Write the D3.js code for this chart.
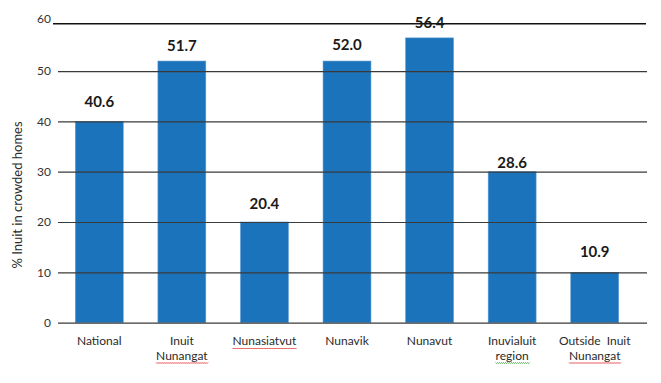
<!DOCTYPE html>
<html lang="en">
<head>
    <meta charset="UTF-8">
    <title>Inuit in crowded homes</title>
    <script src="https://d3js.org/d3.v7.min.js"></script>
    <style>
        body { margin: 0; background: #fff; }
        text { font-family: Lato, "Open Sans", sans-serif; }
    </style>
</head>
<body>
<div id="chart"></div>
<script>
    // regions, first and second line of the axis label
    const categories = ['National', 'Inuit Nunangat', 'Nunasiatvut', 'Nunavik', 'Nunavut', 'Inuvialuit region', 'Outside Inuit Nunangat'];
    const labelLines = [['National'], ['Inuit', 'Nunangat'], ['Nunasiatvut'], ['Nunavik'], ['Nunavut'], ['Inuvialuit', 'region'], ['Outside  Inuit', 'Nunangat']];
    // words with a spell-check squiggle in the picture
    const redWords = ['Nunangat', 'Nunasiatvut'];
    const greenWords = ['region'];

    // bar heights as drawn, and the value printed above each bar
    const barValues = [40, 52, 20, 52, 56.6, 30, 10];
    const valueLabels = [40.6, 51.7, 20.4, 52.0, 56.4, 28.6, 10.9];

    const yTicks = [0, 10, 20, 30, 40, 50, 60];

    const width = 661, height = 383;
    const svg = d3.select('#chart')
        .append('svg')
        .attr('width', width)
        .attr('height', height);

    const x = d3.scaleBand()
        .domain(categories)
        .range([58, 636])
        .paddingInner(0.42)
        .paddingOuter(0.21);

    const y = d3.scaleLinear()
        .domain([0, 60])
        .range([322.6, 20.8]);

    // bars first, gridlines go over them
    svg.append('g')
        .selectAll('rect')
        .data(barValues)
        .join('rect')
        .attr('x', (d, i) => x(categories[i]))
        .attr('y', d => y(d))
        .attr('width', x.bandwidth())
        .attr('height', d => y(0) - y(d))
        .attr('fill', '#1b73bb')
        .attr('stroke', '#5b9bd3')
        .attr('stroke-width', 0.6);

    const yAxis = svg.append('g')
        .attr('transform', 'translate(58,0)')
        .call(d3.axisLeft(y)
            .tickValues(yTicks.slice(0, -1))
            .tickSize(-(647 - 58))
            .tickPadding(7));
    yAxis.select('.domain').remove();
    yAxis.selectAll('.tick line')
        .attr('stroke', '#3a3a3a')
        .attr('stroke-width', 1.2);
    yAxis.selectAll('.tick text')
        .attr('fill', '#333')
        .style('font-size', '12px')
        .style('font-family', 'Lato, sans-serif');

    // top line sits a little apart in the original
    svg.append('text')
        .attr('x', 51)
        .attr('y', y(60) - 2)
        .attr('dy', '0.32em')
        .attr('text-anchor', 'end')
        .attr('fill', '#333')
        .style('font-size', '12px')
        .text(yTicks[yTicks.length - 1]);
    svg.append('line')
        .attr('x1', 53)
        .attr('x2', 646)
        .attr('y1', y(60) + 3)
        .attr('y2', y(60) + 3)
        .attr('stroke', '#111')
        .attr('stroke-width', 1.6);

    // value labels
    svg.append('g')
        .selectAll('text')
        .data(valueLabels)
        .join('text')
        .attr('x', (d, i) => x(categories[i]) + x.bandwidth() / 2)
        .attr('y', d => y(d) - 16.5)
        .attr('dy', '0.36em')
        .attr('text-anchor', 'middle')
        .attr('fill', '#1a1a1a')
        .style('font-size', '15px')
        .style('font-weight', 'bold')
        .text(d => d.toFixed(1));

    // category labels
    const catGroups = svg.append('g')
        .selectAll('g')
        .data(labelLines)
        .join('g')
        .attr('transform', (d, i) => `translate(${x(categories[i]) + x.bandwidth() / 2}, 345)`);

    catGroups.each(function(lines) {
        const g = d3.select(this);
        lines.forEach((word, k) => {
            const t = g.append('text')
                .attr('y', k * 14.5)
                .attr('text-anchor', 'middle')
                .attr('fill', '#2a2a2a')
                .attr('xml:space', 'preserve')
                .style('white-space', 'pre')
                .style('font-size', '12px')
                .text(word);
            const colour = redWords.includes(word) ? '#e02020' : greenWords.includes(word) ? '#2a9d2a' : null;
            if (colour) {
                const w = t.node().getComputedTextLength();
                let p = `M${-w / 2},${k * 14.5 + 3}`;
                for (let s = -w / 2; s < w / 2; s += 2) {
                    p += ` l1,1 l1,-1`;
                }
                g.append('path')
                    .attr('d', p)
                    .attr('fill', 'none')
                    .attr('stroke', colour)
                    .attr('stroke-width', 0.8);
            }
        });
    });

    // axis title
    svg.append('text')
        .attr('transform', 'translate(22,195) rotate(-90)')
        .attr('text-anchor', 'middle')
        .attr('fill', '#2a2a2a')
        .style('font-size', '13px')
        .text('% Inuit in crowded homes');
</script>
</body>
</html>
